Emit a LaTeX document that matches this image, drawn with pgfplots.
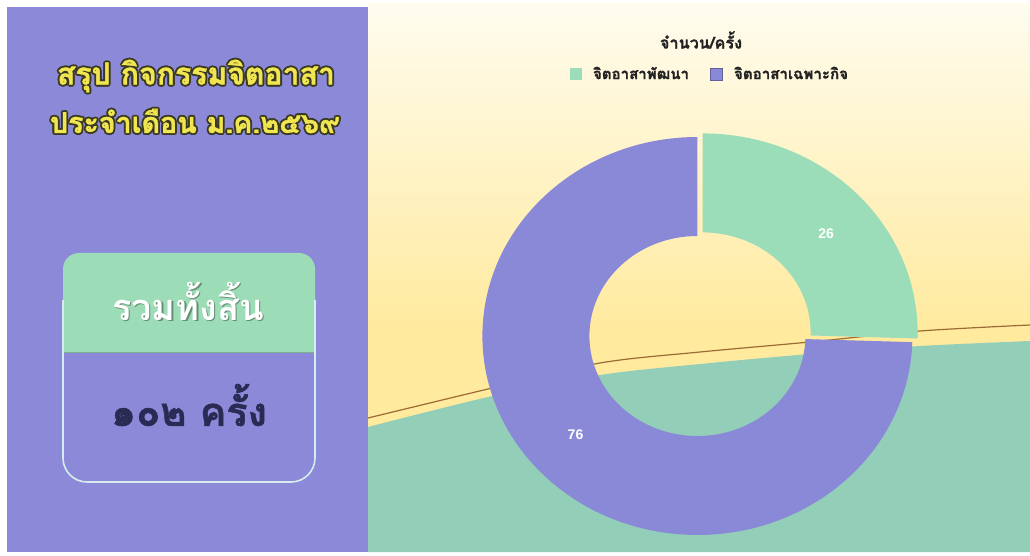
\documentclass[border=0pt]{standalone}
\usepackage{fontspec}
\usepackage{graphicx}
\usepackage{pgfplots}
\pgfplotsset{compat=1.18}
\usetikzlibrary{calc}
\setmainfont{Liberation Sans}
\newfontfamily\thai[Script=Thai]{Loma}
\newfontfamily\thaiheavy[Script=Thai,FakeBold=1.2]{Loma}

\definecolor{panelpurple}{HTML}{8C8AD8}
\definecolor{donutpurple}{HTML}{8A89D8}
\definecolor{donutgreen}{HTML}{9CDDB9}
\definecolor{bggreen}{HTML}{93CFB8}
\definecolor{cream}{HTML}{FFFCEF}
\definecolor{yell}{HTML}{FFEA9E}
\definecolor{titleyellow}{HTML}{F2E650}
\definecolor{titleoutline}{HTML}{3A3A22}
\definecolor{boxgreen}{HTML}{9CDCB6}
\definecolor{boxborder}{HTML}{D5EDEE}
\definecolor{navy}{HTML}{2A2A55}
\definecolor{brownline}{HTML}{9C6B35}
\definecolor{legtext}{HTML}{222222}

% data: จิตอาสาพัฒนา, จิตอาสาเฉพาะกิจ
\def\valA{26}
\def\valB{76}
\pgfmathsetmacro\total{\valA+\valB}
\pgfmathsetmacro\angA{90-(360/\total)*\valA}
\pgfmathsetmacro\angB{\angA-(360/\total)*\valB}
\pgfmathsetmacro\midA{(90+\angA)/2}
\pgfmathsetmacro\midB{(\angA+\angB)/2}

\newcommand{\outl}[4]{% x, y, width, text : yellow with dark outline
  \node[text=titleoutline] at (axis cs:#1,#2) [xshift=0.95pt] {\resizebox{#3}{!}{#4}};
  \node[text=titleoutline] at (axis cs:#1,#2) [xshift=-0.95pt] {\resizebox{#3}{!}{#4}};
  \node[text=titleoutline] at (axis cs:#1,#2) [yshift=0.95pt] {\resizebox{#3}{!}{#4}};
  \node[text=titleoutline] at (axis cs:#1,#2) [yshift=-0.95pt] {\resizebox{#3}{!}{#4}};
  \node[text=titleoutline] at (axis cs:#1,#2) [xshift=0.7pt,yshift=0.7pt] {\resizebox{#3}{!}{#4}};
  \node[text=titleoutline] at (axis cs:#1,#2) [xshift=-0.7pt,yshift=0.7pt] {\resizebox{#3}{!}{#4}};
  \node[text=titleoutline] at (axis cs:#1,#2) [xshift=0.7pt,yshift=-0.7pt] {\resizebox{#3}{!}{#4}};
  \node[text=titleoutline] at (axis cs:#1,#2) [xshift=-0.7pt,yshift=-0.7pt] {\resizebox{#3}{!}{#4}};
  \node[text=titleyellow] at (axis cs:#1,#2) {\resizebox{#3}{!}{#4}};
}

\begin{document}
\begin{tikzpicture}
\begin{axis}[
  x=0.5pt, y=0.5pt, y dir=reverse,
  xmin=0, xmax=1030, ymin=0, ymax=556,
  hide axis, clip=false, scale only axis,
]
% backgrounds
\fill[white] (axis cs:0,0) rectangle (axis cs:1030,556);
\fill[top color=cream, bottom color=yell] (axis cs:368,4) rectangle (axis cs:1030,330);
\fill[yell] (axis cs:368,329) rectangle (axis cs:1030,552);
\fill[bggreen] plot[smooth] coordinates {(axis cs:368,427) (axis cs:488,397) (axis cs:600,375) (axis cs:700,364) (axis cs:810,354) (axis cs:920,346) (axis cs:1030,341)} -- (axis cs:1030,552) -- (axis cs:368,552) -- cycle;
\draw[brownline, line width=0.6pt] plot[smooth] coordinates {(axis cs:368,418) (axis cs:488,389) (axis cs:600,363) (axis cs:700,352) (axis cs:810,342) (axis cs:920,331) (axis cs:1030,325)};

% left panel
\fill[panelpurple] (axis cs:7,7) rectangle (axis cs:368,552);
\outl{196}{76}{139pt}{\thaiheavy\bfseries สรุป กิจกรรมจิตอาสา}
\outl{195}{121}{145pt}{\thaiheavy\bfseries ประจำเดือน ม.ค.๒๕๖๙}

% total box
\fill[panelpurple, rounded corners=12pt] (axis cs:63,253) rectangle (axis cs:315,482);
\fill[boxgreen] (axis cs:63,352) [rounded corners=8pt] -- (axis cs:63,253) -- (axis cs:315,253) [sharp corners] -- (axis cs:315,352) -- cycle;
\draw[boxborder, line width=0.8pt] (axis cs:63,300) [rounded corners=12pt] -- (axis cs:63,482) -- (axis cs:315,482) [sharp corners] -- (axis cs:315,300);
\draw[boxgreen!80!black, line width=0.4pt] (axis cs:64,352) -- (axis cs:314,352);
\node[text=black, opacity=0.35] at (axis cs:188,301) [xshift=0.7pt,yshift=-0.7pt] {\resizebox{76pt}{!}{\thai\bfseries รวมทั้งสิ้น}};
\node[text=white] at (axis cs:188,301) {\resizebox{76pt}{!}{\thai\bfseries รวมทั้งสิ้น}};
\node[text=navy] at (axis cs:189,405) {\resizebox{78pt}{!}{\thaiheavy\bfseries ๑๐๒ ครั้ง}};

% chart title and legend
\node[text=legtext] at (axis cs:701,40) {\resizebox{41pt}{!}{\thaiheavy\bfseries จำนวน/ครั้ง}};
\fill[donutgreen] (axis cs:570,68) rectangle (axis cs:582,80);
\node[text=legtext, anchor=west] at (axis cs:586,73) {\resizebox{48pt}{!}{\thaiheavy\bfseries จิตอาสาพัฒนา}};
\fill[donutpurple] (axis cs:710,68) rectangle (axis cs:722,80);
\draw[donutpurple!70!black, line width=0.3pt] (axis cs:710,68) rectangle (axis cs:722,80);
\node[text=legtext, anchor=west] at (axis cs:727,73) {\resizebox{57pt}{!}{\thaiheavy\bfseries จิตอาสาเฉพาะกิจ}};

% donut
\begin{scope}[shift={(axis cs:699,336)}]
  \fill[donutgreen, shift={(1.8pt,1.8pt)}]
    (90:107.5pt and 99.5pt) arc[start angle=90, end angle=\angA, x radius=107.5pt, y radius=99.5pt]
    -- (\angA:54pt and 50pt) arc[start angle=\angA, end angle=90, x radius=54pt, y radius=50pt] -- cycle;
  \fill[donutpurple, shift={(-0.8pt,0pt)}]
    (\angA:107.5pt and 99.5pt) arc[start angle=\angA, end angle=\angB, x radius=107.5pt, y radius=99.5pt]
    -- (\angB:54pt and 50pt) arc[start angle=\angB, end angle=\angA, x radius=54pt, y radius=50pt] -- cycle;
  \node[text=white, font=\bfseries\fontsize{7pt}{8pt}\selectfont, shift={(1.8pt,1.8pt)}] at (\midA:86pt and 71pt) {\valA};
  \node[text=white, font=\bfseries\fontsize{7pt}{8pt}\selectfont] at (\midB:86pt and 71pt) {\valB};
\end{scope}
\end{axis}
\pgfresetboundingbox
\path (current axis.south west) rectangle (current axis.north east);
\end{tikzpicture}
\end{document}
